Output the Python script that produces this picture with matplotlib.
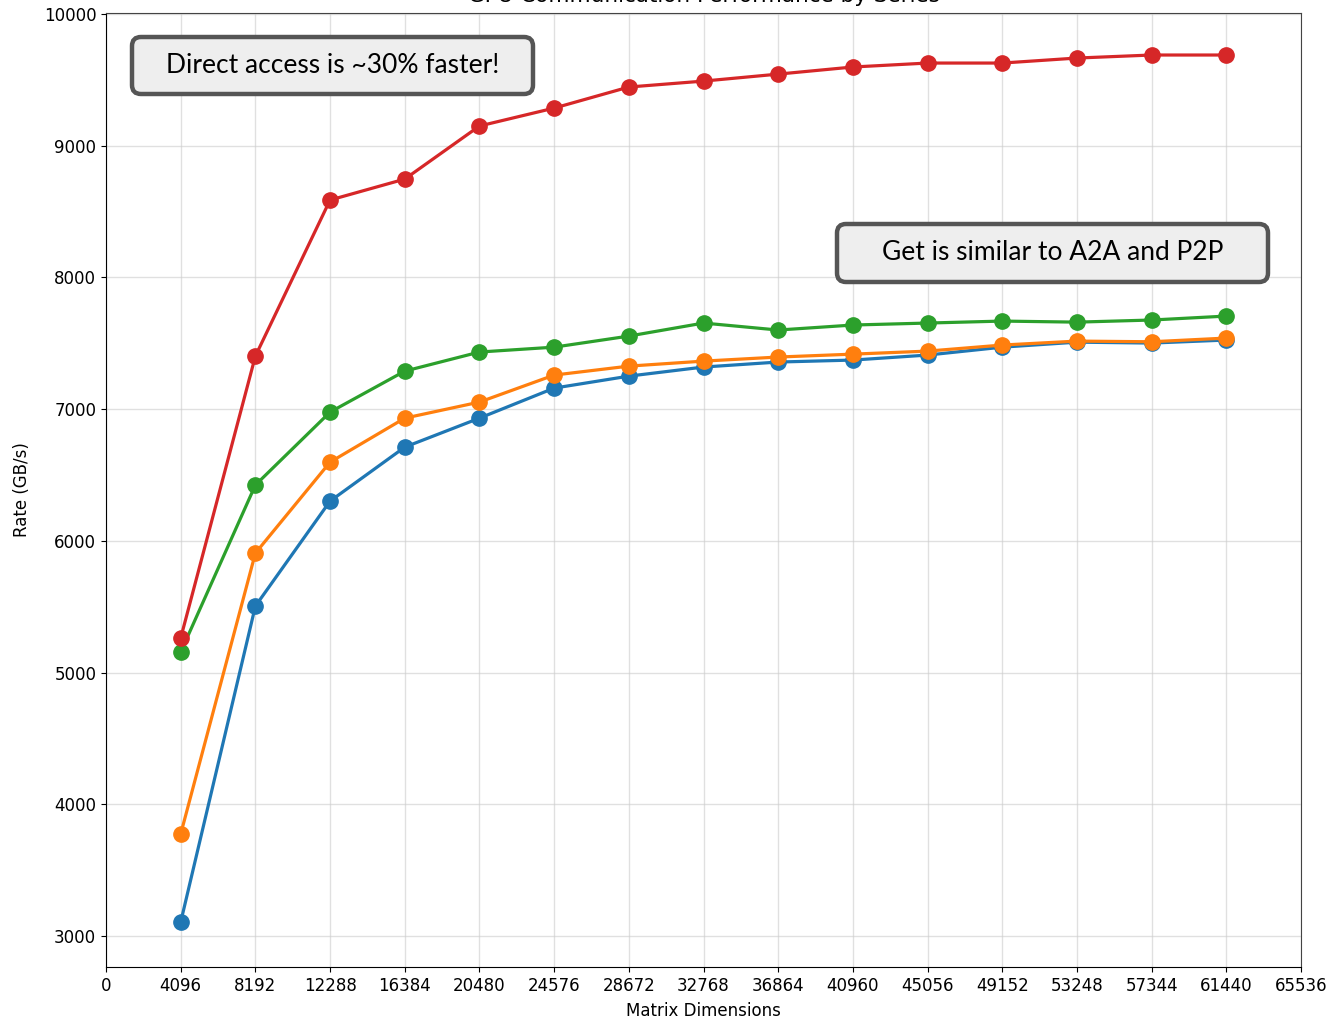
import numpy as np
import matplotlib
matplotlib.use("Agg")
import matplotlib.pyplot as plt
from matplotlib.patches import FancyBboxPatch
from matplotlib.transforms import IdentityTransform

plt.rcParams["font.family"] = ["DejaVu Sans"]

# Data
sizes = [4096, 8192, 12288, 16384, 20480, 24576, 28672, 32768,
         36864, 40960, 45056, 49152, 53248, 57344, 61440]
blue = [3105, 5505, 6302, 6712, 6932, 7160, 7251, 7320,
        7358, 7373, 7411, 7471, 7509, 7502, 7525]
orange = [3774, 5907, 6598, 6932, 7054, 7259, 7327, 7365,
          7396, 7418, 7441, 7487, 7517, 7512, 7540]
green = [5156, 6424, 6978, 7289, 7434, 7471, 7555, 7654,
         7601, 7639, 7654, 7669, 7661, 7677, 7707]
red = [5262, 7403, 8588, 8747, 9150, 9286, 9446, 9491,
       9544, 9598, 9628, 9628, 9666, 9689, 9689]
xticks = list(range(0, 65537, 4096))

W, H, DPI = 1334, 1023, 100
fig = plt.figure(figsize=(W / DPI, H / DPI), dpi=DPI)
ax = fig.add_axes([106 / W, 1 - 967 / H, (1301 - 106) / W, (967 - 13) / H])

for ys, c in [(blue, "#1f77b4"), (orange, "#ff7f0e"), (green, "#2ca02c"), (red, "#d62728")]:
    ax.plot(sizes, ys, color=c, linewidth=2.3, marker="o", markersize=11)

ax.set_xlim(0, 65536)
ax.set_ylim(2765, 10008)
ax.set_xticks(xticks)
ax.set_xticklabels([str(t) for t in xticks], fontsize=12)
ax.tick_params(axis="y", labelsize=12)
ax.grid(True, color="#cccccc", alpha=0.6, linewidth=1)
ax.set_xlabel("Matrix Dimensions", fontsize=12, labelpad=5)
ax.set_ylabel("Rate (GB/s)", fontsize=12, labelpad=9)
ax.set_title("GPU Communication Performance by Series", fontsize=15.5, pad=8)
for s in ["top", "right"]:
    ax.spines[s].set_color("#444444")


def callout(x0, y0, x1, y1, text):
    # pixel coords from top-left of the image
    box = FancyBboxPatch((x0, H - y1), x1 - x0, y1 - y0,
                         boxstyle="round,pad=0,rounding_size=9",
                         facecolor="#eeeeee", edgecolor="#555555",
                         linewidth=3.2, transform=IdentityTransform(),
                         zorder=10)
    fig.patches.append(box)
    fig.text((x0 + x1) / 2 / W, 1 - (y0 + y1) / 2 / H, text,
             ha="center", va="center", fontsize=19, family="Lato",
             zorder=11)


callout(132, 37, 533, 94, "Direct access is ~30% faster!")
callout(837, 224, 1268, 282, "Get is similar to A2A and P2P")

fig.savefig("out.png", dpi=DPI)
